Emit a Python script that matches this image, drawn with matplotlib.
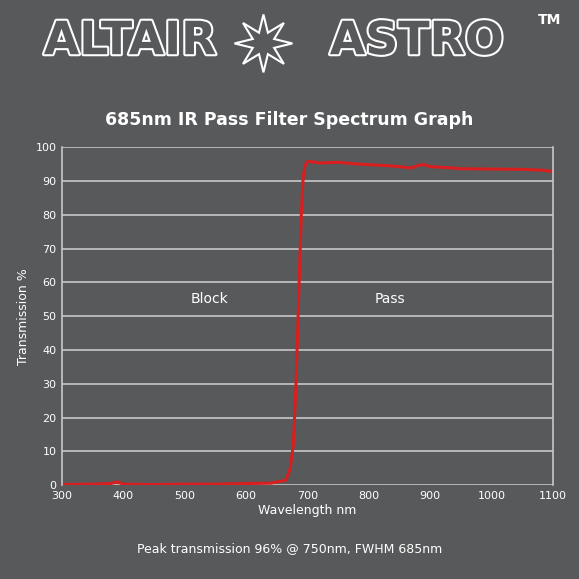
import matplotlib
matplotlib.use("Agg")
import matplotlib.pyplot as plt
import matplotlib.patheffects as pe
import numpy as np

wavelength = [300, 350, 380, 390, 400, 450, 500, 550, 600, 640, 665, 672, 677, 681, 684, 687, 690, 693, 696, 699, 702, 705, 720, 750, 780, 800, 830, 850, 870, 880, 890, 900, 930, 950, 1000, 1050, 1080, 1100]
transmission = [0.2, 0.3, 0.5, 1.0, 0.3, 0.2, 0.3, 0.3, 0.5, 0.6, 1.5, 5, 12, 28, 45, 63, 80, 91, 94.5, 95.5, 95.8, 95.7, 95.3, 95.5, 95, 94.8, 94.5, 94.2, 93.8, 94.6, 94.8, 94.2, 93.9, 93.6, 93.5, 93.4, 93.2, 92.8]
xticks = [300, 400, 500, 600, 700, 800, 900, 1000, 1100]
yticks = list(range(0, 101, 10))

BG = "#58595b"
fig = plt.figure(figsize=(5.79, 5.79), dpi=100, facecolor=BG)
ax = fig.add_axes([0.107, 0.162, 0.848, 0.584], facecolor=BG)

ax.plot(wavelength, transmission, color="#d81e1e", lw=2.2)
ax.set_xlim(300, 1100)
ax.set_ylim(0, 100)
ax.set_xticks(xticks)
ax.set_yticks(yticks)
ax.grid(axis="y", color="#c8c8c8", lw=1.2)
for s in ["top", "bottom"]:
    ax.spines[s].set_visible(False)
for s in ["left", "right"]:
    ax.spines[s].set_color("#c8c8c8")
    ax.spines[s].set_linewidth(1.2)
ax.tick_params(colors="white", labelsize=8, length=0, pad=4)
ax.set_xlabel("Wavelength nm", color="white", fontsize=9, labelpad=2)
ax.set_ylabel("Transmission %", color="white", fontsize=9, labelpad=4)
ax.text(540, 55, "Block", color="white", fontsize=10, ha="center", va="center")
ax.text(835, 55, "Pass", color="white", fontsize=10, ha="center", va="center")

fig.text(0.5, 0.792, "685nm IR Pass Filter Spectrum Graph", color="white",
         fontsize=12.5, fontweight="bold", ha="center", va="center")
fig.text(0.5, 0.052, "Peak transmission 96% @ 750nm, FWHM 685nm", color="white",
         fontsize=9, ha="center", va="center")

outline = [pe.withStroke(linewidth=3, foreground="white")]
fig.text(0.225, 0.928, "ALTAIR", color=BG, fontsize=33, fontweight="bold",
         ha="center", va="center", path_effects=outline)
fig.text(0.72, 0.928, "ASTRO", color=BG, fontsize=33, fontweight="bold",
         ha="center", va="center", path_effects=outline)
fig.text(0.95, 0.965, "TM", color="white", fontsize=10, fontweight="bold",
         ha="center", va="center")
ang = np.linspace(0, 2*np.pi, 17)[:-1]
r = np.where(np.arange(16) % 2 == 0, 1.0, 0.4)
sx = 0.455 + 0.05 * r * np.sin(ang)
sy = 0.925 + 0.05 * r * np.cos(ang)
fig.patches.append(plt.Polygon(np.c_[sx, sy], closed=True, transform=fig.transFigure,
                               facecolor=BG, edgecolor="white", lw=1.5))

fig.savefig("out.png", dpi=100, facecolor=BG)
